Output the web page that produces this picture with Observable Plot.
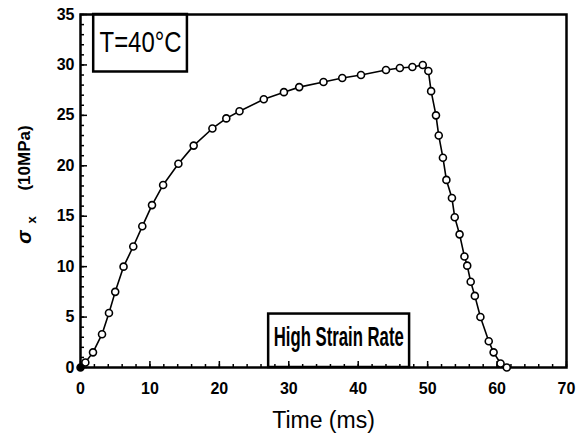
<!DOCTYPE html>
<html><head><meta charset="utf-8">
<script src="https://cdn.jsdelivr.net/npm/d3@7"></script>
<script src="https://cdn.jsdelivr.net/npm/@observablehq/plot@0.6"></script>
<style>body{margin:0;background:#fff} svg{display:block}</style>
</head><body><div id="chart"></div>
<script>
// Time (ms) and stress σx (10 MPa)
const time   = [0, 0.7, 1.8, 3.1, 4.1, 5.0, 6.2, 7.6, 8.9, 10.3, 11.9, 14.1, 16.3, 19.0, 21.0, 22.9, 26.4, 29.3, 31.5, 35.0, 37.7, 40.4, 44.0, 46.0, 47.8, 49.3, 50.1, 50.5, 51.2, 51.6, 52.2, 52.7, 53.5, 53.9, 54.6, 55.3, 55.7, 56.2, 56.8, 57.6, 58.8, 59.5, 60.5, 61.4];
const stress = [0, 0.5, 1.5, 3.3, 5.4, 7.5, 10.0, 12.0, 14.0, 16.1, 18.1, 20.2, 22.0, 23.7, 24.7, 25.4, 26.6, 27.3, 27.8, 28.3, 28.7, 29.0, 29.5, 29.7, 29.8, 30.0, 29.4, 27.4, 25.0, 23.0, 20.8, 18.6, 16.8, 14.9, 13.2, 11.0, 10.1, 8.5, 7.1, 5.0, 2.6, 1.5, 0.4, 0];
const xTickLabels = [0, 10, 20, 30, 40, 50, 60, 70];
const yTickLabels = [0, 5, 10, 15, 20, 25, 30, 35];
const xMinorTicks = d3.range(0, 71, 2);
const yMinorTicks = d3.range(0, 36, 1);
const xLabel = "Time (ms)";
const yLabelSymbol = "σ";
const yLabelSub = "x";
const yLabelUnit = "(10MPa)";
const notes = [
  {text: "T=40°C", x1: 1.9, x2: 15.4, y1: 29.3, y2: 35, cx: 8.65, cy: 32.2, size: 30, weight: "normal", len: 82},
  {text: "High Strain Rate", x1: 27.1, x2: 47.4, y1: 0, y2: 5.3, cx: 37.2, cy: 3.0, size: 27, weight: "bold", len: 130}
];

const data = time.map((t, i) => ({t, s: stress[i]}));
const font = "'Liberation Sans', Arial, sans-serif";

const chart = Plot.plot({
  width: 576, height: 446,
  marginLeft: 80, marginRight: 10, marginTop: 14, marginBottom: 79,
  style: {fontFamily: font, background: "#fff", color: "#000"},
  x: {domain: [0, 70]},
  y: {domain: [0, 35]},
  marks: [
    Plot.rect(notes, {x1: "x1", x2: "x2", y1: "y1", y2: "y2", fill: "white", stroke: "black", strokeWidth: 2.5}),
    Plot.text(notes, {x: "cx", y: "cy", text: "text", fill: "black"}),
    Plot.axisY({ticks: yMinorTicks, tickSize: 4, dx: 4, text: null, label: null, strokeWidth: 1.5}),
    Plot.axisY({ticks: yTickLabels, tickSize: 7, dx: 7, text: null, label: null, strokeWidth: 1.5}),
    Plot.axisY({ticks: yTickLabels, tickSize: 0, tickPadding: 6, label: null, fontSize: 16, fontWeight: "bold"}),
    Plot.axisX({ticks: xMinorTicks, tickSize: 3, dy: -3, text: null, label: null, strokeWidth: 1.5}),
    Plot.axisX({ticks: xTickLabels, tickSize: 6, dy: -6, text: null, label: null, strokeWidth: 1.5}),
    Plot.axisX({ticks: xTickLabels, tickSize: 0, tickPadding: 15, label: null, fontSize: 16, fontWeight: "bold"}),
    Plot.frame({stroke: "black", strokeWidth: 2.5}),
    Plot.line(data, {x: "t", y: "s", stroke: "black", strokeWidth: 1.6}),
    Plot.dot(data.slice(1), {x: "t", y: "s", r: 3.5, fill: "white", stroke: "black", strokeWidth: 1.6}),
    Plot.dot(data.slice(0, 1), {x: "t", y: "s", r: 3.5, fill: "black", stroke: "black"}),
    Plot.text([xLabel], {frameAnchor: "bottom", dy: 60, fontSize: 23, text: d => d, fill: "black"}),
    Plot.text([yLabelUnit], {frameAnchor: "left", textAnchor: "middle", rotate: -90, dx: -56, dy: -33, fontSize: 17, fontWeight: "bold", text: d => d, fill: "black"}),
    Plot.text([yLabelSymbol], {frameAnchor: "left", textAnchor: "middle", rotate: -90, dx: -56, dy: 46, fontSize: 20, fontWeight: "bold", fontStyle: "italic", text: d => d, fill: "black"}),
    Plot.text([yLabelSub], {frameAnchor: "left", textAnchor: "middle", rotate: -90, dx: -49, dy: 29, fontSize: 13, fontWeight: "bold", text: d => d, fill: "black"})
  ]
});

const svg = d3.select(chart);
// size, weight and condensing of the annotation texts
svg.selectAll("text").each(function() {
  const n = notes.find(d => d.text === this.textContent);
  if (n) d3.select(this)
    .attr("font-size", n.size).attr("font-weight", n.weight)
    .attr("textLength", n.len).attr("lengthAdjust", "spacingAndGlyphs");
});
document.getElementById("chart").appendChild(chart);
</script>
</body></html>
